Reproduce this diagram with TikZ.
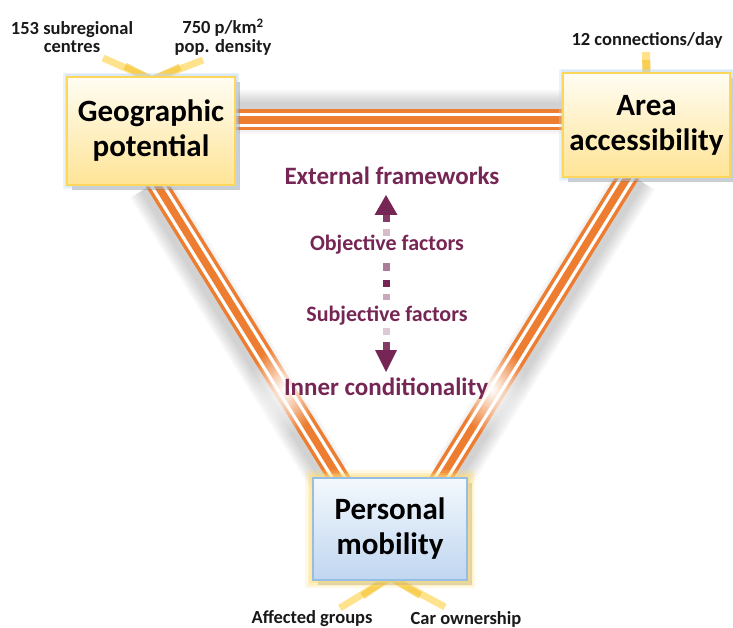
\documentclass[tikz,border=0pt]{standalone}
\usepackage{fontspec}
\setmainfont{Carlito}
\usetikzlibrary{calc,shadows,fadings}

\definecolor{conn}{RGB}{237,125,49}
\definecolor{plum}{RGB}{118,38,84}
\definecolor{geoborder}{RGB}{255,214,92}
\definecolor{geotop}{RGB}{255,253,243}
\definecolor{geobot}{RGB}{255,228,150}
\definecolor{pmborder}{RGB}{150,190,228}
\definecolor{pmtop}{RGB}{243,248,253}
\definecolor{pmbot}{RGB}{192,214,240}
\definecolor{glowblue}{RGB}{190,216,240}
\definecolor{glowgold}{RGB}{255,222,120}
\definecolor{stubpale}{RGB}{255,226,140}
\definecolor{stubdeep}{RGB}{244,192,36}

\pgfdeclarelayer{bg}
\pgfsetlayers{bg,main}

\tikzfading[name=softspot, inner color=transparent!0, outer color=transparent!100]

\tikzset{
  boxtext/.style={align=center, font=\fontsize{31}{35}\selectfont\bfseries, text=black},
  geobox/.style={boxtext, draw=geoborder, line width=2.5pt,
    top color=geotop, bottom color=geobot,
    drop shadow={shadow xshift=5pt, shadow yshift=-5pt, fill=black!50, opacity=.4},
    preaction={draw=glowblue, line width=8pt, opacity=.3},
    preaction={draw=glowblue, line width=5pt, opacity=.4}},
  pmbox/.style={boxtext, draw=pmborder, line width=2.5pt,
    top color=pmtop, bottom color=pmbot,
    drop shadow={shadow xshift=5pt, shadow yshift=-5pt, fill=black!50, opacity=.4},
    preaction={draw=glowgold, line width=16pt, opacity=.2},
    preaction={draw=glowgold, line width=11pt, opacity=.3},
    preaction={draw=glowgold, line width=6pt, opacity=.4}},
  smalllabel/.style={align=center, font=\fontsize{18.5}{18.5}\selectfont\bfseries, text=black!90, inner sep=0pt},
  factor/.style={font=\fontsize{25}{28}\selectfont\bfseries, text=plum, inner sep=0pt},
  subfactor/.style={font=\fontsize{22}{26}\selectfont\bfseries, text=plum, inner sep=0pt},
  triple/.style={draw=conn, line width=21pt,
    postaction={draw=white, line width=14pt},
    postaction={draw=conn, line width=7.4pt}},
  connshadow/.style={draw=black, opacity=.028, line width=#1},
  stubouter/.style={draw=stubpale, line width=7pt},
  stubinner/.style={draw=stubdeep, line width=7pt, opacity=.55},
  shaft/.style={fill=plum}
}

\begin{document}
\begin{tikzpicture}[x=1pt,y=-1pt]
\useasboundingbox (0,0) rectangle (733,628);

% the three factor boxes
\node[geobox, minimum width=168pt, minimum height=108pt] (geo) at (151,131) {Geographic\\potential};
\node[geobox, minimum width=167pt, minimum height=104pt] (acc) at (646.5,125) {Area\\accessibility};
\node[pmbox, minimum width=154pt, minimum height=102pt] (pm) at (390,529) {Personal\\mobility};

% attachment points of the connectors
\coordinate (gh) at ([yshift=11pt]geo.east);
\coordinate (ah) at ([yshift=5pt]acc.west);
\coordinate (gd) at ([xshift=7pt]geo.south);
\coordinate (pl) at ([xshift=-52pt]pm.north);
\coordinate (ad) at ([xshift=-19.5pt]acc.south);
\coordinate (pr) at ([xshift=52pt]pm.north);

% free ends of the indicator stubs
\coordinate (s1) at (103,58);
\coordinate (s2) at (203,60);
\coordinate (s3) at (646,52);
\coordinate (s4) at (340,608);
\coordinate (s5) at (445,607);

\begin{pgfonlayer}{bg}
  % soft shadows beside the connectors
  \foreach \w in {20,24,28,32,36,40,44} {
    \draw[connshadow=\w pt] ([yshift=8pt]gh) -- ([yshift=8pt]ah);
    \draw[connshadow=\w pt] ([xshift=-9pt]gd) -- ([xshift=-9pt]pl);
    \draw[connshadow=\w pt] ([xshift=9pt]ad) -- ([xshift=9pt]pr);
  }
  % triple-stripe connectors
  \draw[triple] ($(gh)!-10pt!(ah)$) -- ($(ah)!-10pt!(gh)$);
  \draw[triple] ($(gd)!-12pt!(pl)$) -- ($(pl)!-12pt!(gd)$);
  \draw[triple] ($(ad)!-12pt!(pr)$) -- ($(pr)!-12pt!(ad)$);

  % indicator stubs
  \draw[stubouter] ([xshift=1pt, yshift=-4pt]geo.north) -- (s1);
  \draw[stubouter] ([xshift=1pt, yshift=-4pt]geo.north) -- (s2);
  \draw[stubinner] ([xshift=1pt, yshift=-4pt]geo.north) -- ($([xshift=1pt]geo.north)!.55!(s1)$);
  \draw[stubinner] ([xshift=1pt, yshift=-4pt]geo.north) -- ($([xshift=1pt]geo.north)!.55!(s2)$);
  \draw[stubouter, line width=8pt] ([yshift=-4pt]acc.north) -- (s3);
  \draw[stubinner, line width=8pt] ([yshift=-4pt]acc.north) -- ($(acc.north)!.6!(s3)$);
  \draw[stubouter] ([yshift=4pt]pm.south) -- (s4);
  \draw[stubouter] ([yshift=4pt]pm.south) -- (s5);
  \draw[stubinner] ([yshift=4pt]pm.south) -- ($(pm.south)!.55!(s4)$);
  \draw[stubinner] ([yshift=4pt]pm.south) -- ($(pm.south)!.55!(s5)$);
\end{pgfonlayer}

% white halo around the bottom heading where it meets the connectors
\fill[white, path fading=softspot] (284,389) ellipse (34pt and 46pt);
\fill[white, path fading=softspot] (492,389) ellipse (34pt and 46pt);

% indicator labels
\node[smalllabel] (l1) at (72,37) {153 subregional\\centres};
\node[smalllabel] (l2) at (223,37) {750 p/km\textsuperscript{2}\\pop. density};
\node[smalllabel] (l3) at (647,40) {12 connections/day};
\node[smalllabel] (l4) at (312,619) {Affected groups};
\node[smalllabel] (l5) at (466,619) {Car ownership};

% vertical scale between frameworks and conditionality
\fill[plum] (386,195) -- (397.5,215) -- (374.5,215) -- cycle;
\fill[shaft, opacity=.9]  (382.5,214) rectangle (389.5,222);
\fill[shaft, opacity=.3]  (382.5,229) rectangle (389.5,236);
\fill[shaft, opacity=.6]  (382.5,263) rectangle (389.5,271);
\fill[shaft]              (382.5,280) rectangle (389.5,287);
\fill[shaft, opacity=.4]  (382.5,294) rectangle (389.5,300);
\fill[shaft, opacity=.25] (382.5,328) rectangle (389.5,335);
\fill[shaft, opacity=.9]  (382.5,342) rectangle (389.5,351);
\fill[plum] (386,372) -- (397,350) -- (375,350) -- cycle;

\node[factor] (ext) at (392,176) {External frameworks};
\node[subfactor] (obj) at (387,245) {Objective factors};
\node[subfactor] (sub) at (387,316) {Subjective factors};
\node[factor] (inn) at (386,389) {Inner conditionality};
\end{tikzpicture}
\end{document}
